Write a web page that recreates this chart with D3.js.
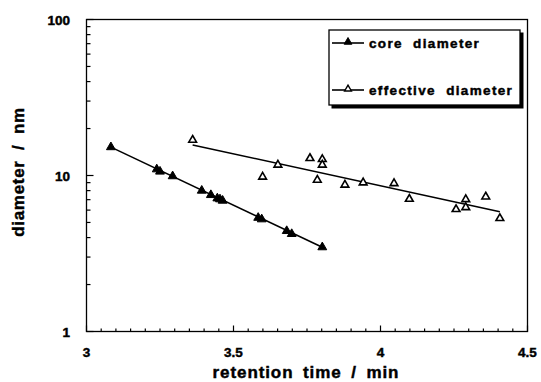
<!DOCTYPE html>
<html lang="en">
<head>
  <meta charset="UTF-8" />
  <title>Diameter vs retention time</title>
  <script src="https://d3js.org/d3.v7.min.js"></script>
  <style>
    body {margin: 0; background: #fff;
          font-family: "Liberation Sans", Arial, Helvetica, sans-serif;}
    svg text {font-weight: bold; fill: #000; stroke: #000; stroke-width: 0.45px;}
  </style>
</head>
<body>
<script>
  // core diameter (filled triangles)
  const coreTime = [3.083, 3.239, 3.250, 3.293, 3.392, 3.423, 3.445, 3.454, 3.463, 3.584, 3.596, 3.681, 3.698, 3.802];
  const coreDiam = [15.2, 10.96, 10.6, 9.9, 8.0, 7.5, 7.14, 7.04, 6.9, 5.36, 5.24, 4.41, 4.22, 3.47];
  // effective diameter (open triangles)
  const effTime = [3.361, 3.599, 3.651, 3.760, 3.802, 3.802, 3.785, 3.879, 3.941, 4.046, 4.098, 4.257, 4.290, 4.290, 4.358, 4.406];
  const effDiam = [16.9, 9.8, 11.7, 12.9, 12.7, 11.7, 9.36, 8.7, 9.0, 8.9, 7.07, 6.07, 6.25, 7.03, 7.31, 5.32];
  // fitted lines (endpoints)
  const coreFit = [[3.083, 15.2], [3.802, 3.47]];
  const effFit = [[3.361, 15.7], [4.406, 5.86]];

  const xTicks = [3, 3.5, 4, 4.5];
  const yTicks = [1, 10, 100];
  const legendLabels = ["core  diameter", "effective  diameter"];

  const width = 541, height = 382;
  const padLeft = 86.5, padRight = 527.5, padTop = 19.5, padBottom = 331.5;

  const svg = d3.select("body").append("svg")
                .attr("width", width)
                .attr("height", height);

  const x = d3.scaleLinear().domain([3, 4.5]).range([padLeft, padRight]);
  const y = d3.scaleLog().domain([1, 100]).range([padBottom, padTop]);

  // frame
  svg.append("rect")
     .attr("x", padLeft).attr("y", padTop)
     .attr("width", padRight - padLeft).attr("height", padBottom - padTop)
     .attr("fill", "none").attr("stroke", "#000").attr("stroke-width", 1.3);

  // bottom minor ticks (inward)
  const xMinor = d3.range(0, 31).map(i => 3 + i * 0.05);
  svg.append("g").selectAll("line").data(xMinor).join("line")
     .attr("x1", d => x(d)).attr("x2", d => x(d))
     .attr("y1", padBottom)
     .attr("y2", (d, i) => padBottom - (i % 10 === 0 ? 6 : 3))
     .attr("stroke", "#000").attr("stroke-width", 1.2);

  // left minor ticks (inward)
  const yMinor = [];
  [1, 10].forEach(dec => d3.range(1, 10).forEach(k => yMinor.push(dec * k)));
  yMinor.push(100);
  svg.append("g").selectAll("line").data(yMinor).join("line")
     .attr("x1", padLeft)
     .attr("x2", d => padLeft + (yTicks.includes(d) ? 7 : 4))
     .attr("y1", d => y(d)).attr("y2", d => y(d))
     .attr("stroke", "#000").attr("stroke-width", 1.2);

  // tick labels
  svg.append("g").selectAll("text").data(xTicks).join("text")
     .attr("x", d => x(d)).attr("y", 357)
     .attr("text-anchor", "middle")
     .attr("font-size", 13.5)
     .text(d => d);

  svg.append("g").selectAll("text").data(yTicks).join("text")
     .attr("x", 70).attr("y", d => y(d) + 5)
     .attr("text-anchor", "end")
     .attr("font-size", 13.5)
     .text(d => d);

  // axis titles
  svg.append("text")
     .attr("x", 306).attr("y", 378)
     .attr("text-anchor", "middle")
     .attr("font-size", 17)
     .attr("letter-spacing", 0.9)
     .attr("word-spacing", 4)
     .text("retention time / min");

  svg.append("text")
     .attr("transform", "translate(24,172) rotate(-90)")
     .attr("text-anchor", "middle")
     .attr("font-size", 17)
     .attr("letter-spacing", 0.7)
     .attr("word-spacing", 5)
     .text("diameter / nm");

  // fitted lines
  const line = d3.line().x(d => x(d[0])).y(d => y(d[1]));
  [coreFit, effFit].forEach(f => {
    svg.append("path").attr("d", line(f))
       .attr("fill", "none").attr("stroke", "#000").attr("stroke-width", 1.6);
  });

  // points
  const tri = d3.symbol().type(d3.symbolTriangle).size(34);
  svg.append("g").selectAll("path").data(coreTime.map((t, i) => [t, coreDiam[i]])).join("path")
     .attr("d", tri)
     .attr("transform", d => `translate(${x(d[0])},${y(d[1])})`)
     .attr("fill", "#000").attr("stroke", "#000").attr("stroke-width", 1);

  svg.append("g").selectAll("path").data(effTime.map((t, i) => [t, effDiam[i]])).join("path")
     .attr("d", d3.symbol().type(d3.symbolTriangle).size(26))
     .attr("transform", d => `translate(${x(d[0])},${y(d[1])})`)
     .attr("fill", "#fff").attr("stroke", "#000").attr("stroke-width", 1.6);

  // legend
  const lg = svg.append("g").attr("transform", "translate(329,30)");
  lg.append("rect").attr("x", 2.5).attr("y", 2.5).attr("width", 192).attr("height", 76)
    .attr("fill", "#000");
  lg.append("rect").attr("x", 0).attr("y", 0).attr("width", 191).attr("height", 75)
    .attr("fill", "#fff").attr("stroke", "#000").attr("stroke-width", 1.3);

  legendLabels.forEach((lab, i) => {
    const ly = 13 + i * 47;
    lg.append("line").attr("x1", 3).attr("x2", 35).attr("y1", ly).attr("y2", ly)
      .attr("stroke", "#000").attr("stroke-width", 1.6);
    lg.append("path")
      .attr("d", d3.symbol().type(d3.symbolTriangle).size(i === 0 ? 26 : 20))
      .attr("transform", `translate(19,${ly - 1})`)
      .attr("fill", i === 0 ? "#000" : "#fff")
      .attr("stroke", "#000").attr("stroke-width", i === 0 ? 1 : 1.4);
    lg.append("text").attr("x", 40).attr("y", ly + 4.5)
      .attr("font-size", 13.5)
      .attr("letter-spacing", 1.35)
      .style("white-space", "pre")
      .text(lab);
  });
</script>
</body>
</html>
